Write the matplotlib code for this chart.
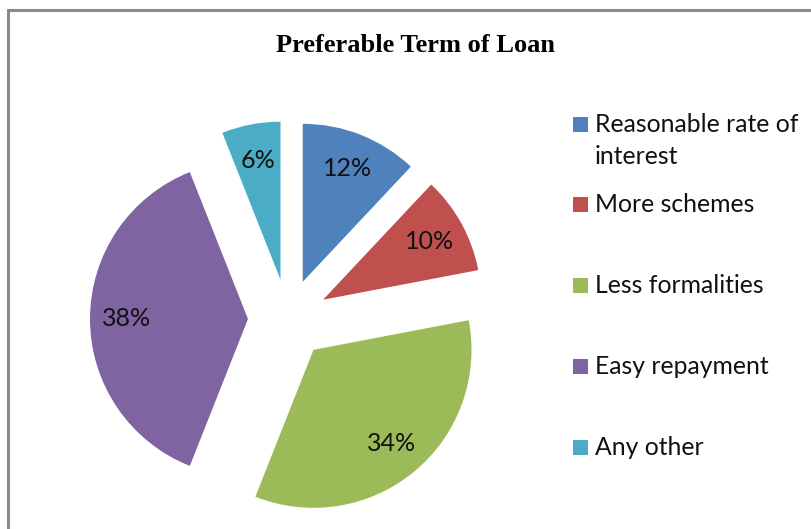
import matplotlib
matplotlib.use("Agg")
import matplotlib.pyplot as plt
from matplotlib.patches import Rectangle

# Survey responses: preferred loan features
categories = ["Reasonable rate of\ninterest", "More schemes", "Less formalities",
              "Easy repayment", "Any other"]
shares = [12, 10, 34, 38, 6]
colors = ["#4F81BD", "#C0504D", "#9BBB59", "#8064A2", "#4BACC6"]
title = "Preferable Term of Loan"

W, H = 811, 529
fig = plt.figure(figsize=(W / 100, H / 100), dpi=100)
fig.patch.set_facecolor("white")

# Axes in pixel units so the pie can be placed precisely
ax = fig.add_axes([0, 0, 1, 1])
cx, cy, r, gap = 288, H - 319, 158, 40

wedges, texts, autotexts = ax.pie(
    shares,
    colors=colors,
    startangle=90,
    counterclock=False,
    center=(cx, cy),
    radius=r,
    explode=[gap] * len(shares),
    autopct=lambda p: f"{p:.0f}%",
    pctdistance=0.77,
    wedgeprops=dict(linewidth=0),
    textprops=dict(family="Lato", fontsize=18, color="#111111"),
)
ax.set_xlim(0, W)
ax.set_ylim(0, H)
ax.set_aspect("equal")
ax.axis("off")

# Chart frame (extends beyond the right and bottom edges)
ax.add_patch(Rectangle((8, -20), W + 20, H - 10 + 20, fill=False,
                       edgecolor="#8a8a8a", linewidth=2.2, clip_on=False))

# Title
ax.text(416, H - 46, title, ha="center", va="center",
        family="Liberation Serif", fontweight="bold", fontsize=19, color="black")

# Legend: one square and label per category
step = 80.8
for i, (lab, col) in enumerate(zip(categories, colors)):
    y = H - (124 + step * i)
    ax.add_patch(Rectangle((573, y - 7.5), 15, 15, facecolor=col, edgecolor="none"))
    first, *rest = lab.split("\n")
    ax.text(595, y, first, ha="left", va="center", family="Lato",
            fontsize=17.8, color="#111111")
    for j, extra in enumerate(rest, start=1):
        ax.text(595, y - 33 * j, extra, ha="left", va="center", family="Lato",
                fontsize=17.8, color="#111111")

fig.savefig("out.png", dpi=100, facecolor="white")
